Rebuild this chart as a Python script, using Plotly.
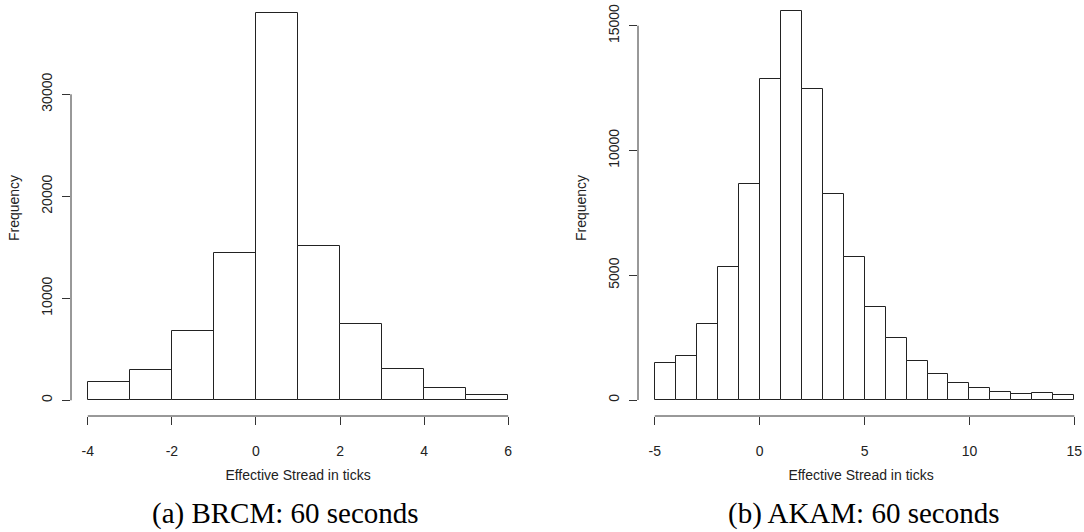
import numpy as np
import plotly.graph_objects as go

# ---- data ----
brcm_edges = [-4, -3, -2, -1, 0, 1, 2, 3, 4, 5, 6]
brcm_counts = [1830, 2970, 6750, 14450, 38000, 15140, 7470, 3070, 1210, 560]

akam_edges = list(range(-5, 16))
akam_counts = [1500, 1780, 3060, 5330, 8640, 12870, 15570, 12470, 8260, 5740,
               3710, 2470, 1580, 1060, 670, 480, 340, 260, 280, 190]

brcm_xticks = [-4, -2, 0, 2, 4, 6]
brcm_yticks = [0, 10000, 20000, 30000]
akam_xticks = [-5, 0, 5, 10, 15]
akam_yticks = [0, 5000, 10000, 15000]

x_title = "Effective Stread in ticks"
y_title = "Frequency"
captions = ["(a) BRCM: 60 seconds", "(b) AKAM: 60 seconds"]

W, H = 1084, 532
LINE = "#333333"
TXT = "#222222"
SANS = "Liberation Sans, Arial, sans-serif"


def bars(edges, counts, xa, ya):
    e = np.asarray(edges, dtype=float)
    return go.Bar(
        x=(e[:-1] + e[1:]) / 2, y=counts, width=np.diff(e),
        marker=dict(color="white", line=dict(color="#222222", width=1)),
        xaxis=xa, yaxis=ya, showlegend=False, hoverinfo="x+y",
    )


fig = go.Figure()
fig.add_trace(bars(brcm_edges, brcm_counts, "x", "y"))
fig.add_trace(bars(akam_edges, akam_counts, "x2", "y2"))

common_x = dict(ticks="outside", ticklen=8, tickcolor=LINE, tickwidth=1,
                showgrid=False, zeroline=False, showline=False,
                ticklabelstandoff=14,
                tickfont=dict(family=SANS, size=14, color=TXT))
common_y = dict(ticks="outside", ticklen=8, tickcolor=LINE, tickwidth=1,
                showgrid=False, zeroline=False, showline=False, tickangle=-90,
                ticklabelstandoff=4,
                tickfont=dict(family=SANS, size=14, color=TXT))


def tt(vals):
    return [str(v) for v in vals]


ydom = [116 / H, 1]
fig.update_layout(
    width=W, height=H, margin=dict(l=0, r=0, t=0, b=0),
    paper_bgcolor="white", plot_bgcolor="white", bargap=0,
    xaxis=dict(domain=[71 / W, 525 / W], range=[-4.4, 6.4],
               tickvals=brcm_xticks, ticktext=tt(brcm_xticks),
               title=dict(text=x_title, standoff=12, font=dict(family=SANS, size=14, color=TXT)),
               anchor="y", **common_x),
    yaxis=dict(domain=ydom, range=[-1539, 39245],
               tickvals=brcm_yticks, ticktext=tt(brcm_yticks),
               title=dict(text=y_title, standoff=16, font=dict(family=SANS, size=14, color=TXT)),
               anchor="x", **common_y),
    xaxis2=dict(domain=[638 / W, 1], range=[-5.8, 15.46],
                tickvals=akam_xticks, ticktext=tt(akam_xticks),
                title=dict(text=x_title, standoff=12, font=dict(family=SANS, size=14, color=TXT)),
                anchor="y2", **common_x),
    yaxis2=dict(domain=ydom, range=[-641, 16030],
                tickvals=akam_yticks, ticktext=tt(akam_yticks),
                title=dict(text=y_title, standoff=16, font=dict(family=SANS, size=14, color=TXT)),
                anchor="x2", **common_y),
)

# R-style detached axis lines spanning the tick range
for xa, ya, xt, yt in [("x", "y", brcm_xticks, brcm_yticks), ("x2", "y2", akam_xticks, akam_yticks)]:
    fig.add_shape(type="line", xref=xa, yref=f"{ya} domain", x0=xt[0], x1=xt[-1], y0=0, y1=0,
                  line=dict(color=LINE, width=1))
    fig.add_shape(type="line", xref=f"{xa} domain", yref=ya, x0=0, x1=0, y0=yt[0], y1=yt[-1],
                  line=dict(color=LINE, width=1))

for cx, text in zip([285, 863], captions):
    fig.add_annotation(text=text, xref="paper", yref="paper", x=cx / W, y=(H - 513) / H,
                       xanchor="center", yanchor="middle", showarrow=False,
                       font=dict(family="Liberation Serif, Times New Roman, serif", size=29, color="black"))

fig.write_html("out.html")
